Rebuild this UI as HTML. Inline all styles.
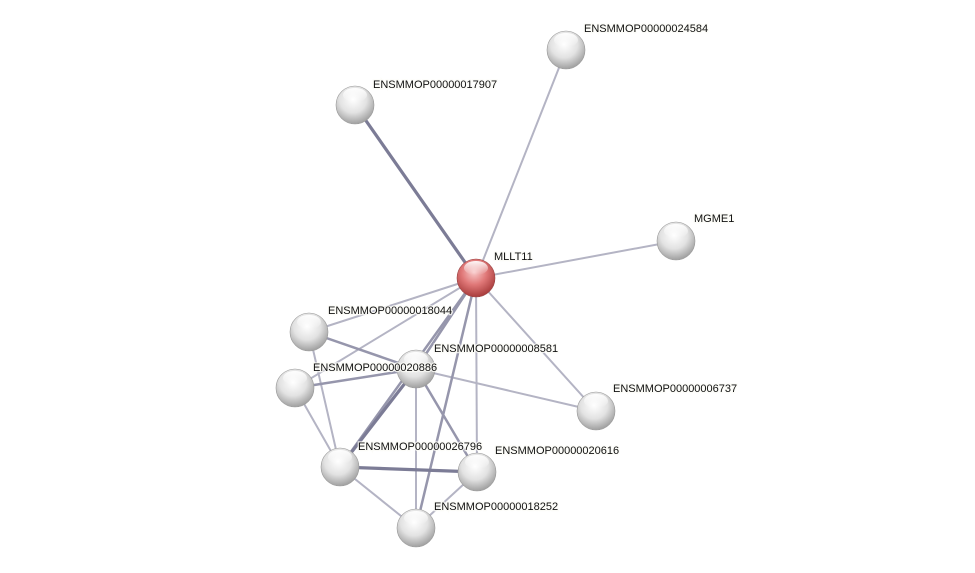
<!DOCTYPE html>
<html><head><meta charset="utf-8"><style>
html,body{margin:0;padding:0;background:#fff;}
svg{display:block;}
text{font-family:"Liberation Sans",sans-serif;font-size:11px;fill:#111;paint-order:stroke;stroke:#fbfbf6;stroke-width:2.5px;stroke-opacity:0.8;}
</style></head><body>
<svg width="975" height="573" viewBox="0 0 975 573" xmlns="http://www.w3.org/2000/svg">
<defs>
<radialGradient id="g" cx="45%" cy="35%" r="65%">
<stop offset="0" stop-color="#ffffff"/><stop offset="0.55" stop-color="#e2e2e2"/><stop offset="1" stop-color="#a0a0a0"/>
</radialGradient>
<radialGradient id="r" cx="45%" cy="35%" r="65%">
<stop offset="0" stop-color="#f8c8c8"/><stop offset="0.5" stop-color="#e07878"/><stop offset="1" stop-color="#a83c3c"/>
</radialGradient>
<linearGradient id="hl" x1="0" y1="0" x2="0" y2="1">
<stop offset="0" stop-color="#fff" stop-opacity="0.95"/><stop offset="1" stop-color="#fff" stop-opacity="0"/>
</linearGradient>
</defs>
<g stroke-linecap="round">
<g stroke="#b4b4c4" stroke-width="2">
<line x1="476" y1="278" x2="566" y2="50"/>
<line x1="476" y1="278" x2="676" y2="241"/>
<line x1="476" y1="278" x2="309" y2="332"/>
<line x1="476" y1="278" x2="295" y2="388"/>
<line x1="476" y1="278" x2="596" y2="411"/>
<line x1="476" y1="278" x2="477" y2="472"/>
<line x1="416" y1="369" x2="596" y2="411"/>
<line x1="309" y1="332" x2="340" y2="467"/>
<line x1="295" y1="388" x2="340" y2="467"/>
<line x1="340" y1="467" x2="416" y2="528"/>
<line x1="477" y1="472" x2="416" y2="528"/>
<line x1="416" y1="369" x2="416" y2="528"/>
</g>
<g stroke="#9696ac" stroke-width="2.5">
<line x1="476" y1="278" x2="416" y2="369"/>
<line x1="476" y1="278" x2="340" y2="467"/>
<line x1="476" y1="278" x2="416" y2="528"/>
<line x1="309" y1="332" x2="416" y2="369"/>
<line x1="416" y1="369" x2="477" y2="472"/>
<line x1="295" y1="388" x2="416" y2="369"/>
</g>
<g stroke="#7c7c96" stroke-width="3.2">
<line x1="476" y1="278" x2="355" y2="105"/>
<line x1="416" y1="369" x2="340" y2="467"/>
<line x1="340" y1="467" x2="477" y2="472"/>
</g>
</g>
<g stroke="#999" stroke-width="0.6">
<circle cx="566" cy="50" r="19" fill="url(#g)"/>
<circle cx="355" cy="105" r="19" fill="url(#g)"/>
<circle cx="676" cy="241" r="19" fill="url(#g)"/>
<circle cx="476" cy="278" r="19" fill="url(#r)" stroke="#944"/>
<circle cx="309" cy="332" r="19" fill="url(#g)"/>
<circle cx="416" cy="369" r="19" fill="url(#g)"/>
<circle cx="295" cy="388" r="19" fill="url(#g)"/>
<circle cx="596" cy="411" r="19" fill="url(#g)"/>
<circle cx="340" cy="467" r="19" fill="url(#g)"/>
<circle cx="477" cy="472" r="19" fill="url(#g)"/>
<circle cx="416" cy="528" r="19" fill="url(#g)"/>
</g>
<g fill="url(#hl)">
<ellipse cx="566" cy="40" rx="12" ry="7"/><ellipse cx="355" cy="95" rx="12" ry="7"/>
<ellipse cx="676" cy="231" rx="12" ry="7"/><ellipse cx="476" cy="268" rx="12" ry="7"/>
<ellipse cx="309" cy="322" rx="12" ry="7"/><ellipse cx="416" cy="359" rx="12" ry="7"/>
<ellipse cx="295" cy="378" rx="12" ry="7"/><ellipse cx="596" cy="401" rx="12" ry="7"/>
<ellipse cx="340" cy="457" rx="12" ry="7"/><ellipse cx="477" cy="462" rx="12" ry="7"/>
<ellipse cx="416" cy="518" rx="12" ry="7"/>
</g>
<g>
<text x="584" y="32">ENSMMOP00000024584</text>
<text x="373" y="88">ENSMMOP00000017907</text>
<text x="694" y="222">MGME1</text>
<text x="494" y="260">MLLT11</text>
<text x="328" y="314">ENSMMOP00000018044</text>
<text x="434" y="352">ENSMMOP00000008581</text>
<text x="313" y="371">ENSMMOP00000020886</text>
<text x="613" y="392">ENSMMOP00000006737</text>
<text x="358" y="450">ENSMMOP00000026796</text>
<text x="495" y="454">ENSMMOP00000020616</text>
<text x="434" y="510">ENSMMOP00000018252</text>
</g>
</svg>
</body></html>
